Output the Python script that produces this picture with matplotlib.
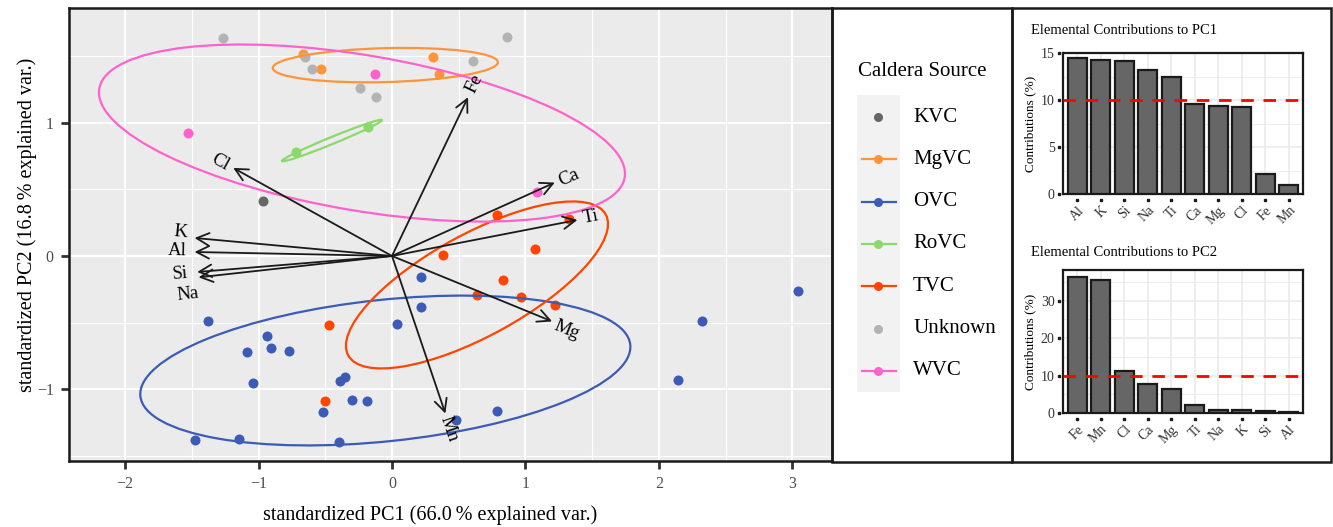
import numpy as np
import matplotlib
matplotlib.use('Agg')
import matplotlib.pyplot as plt
from matplotlib.patches import Ellipse, Rectangle
from matplotlib.transforms import blended_transform_factory

plt.rcParams['font.family'] = ['Liberation Serif', 'DejaVu Serif']

# PCA scores by caldera source
groups = ['KVC', 'MgVC', 'OVC', 'RoVC', 'TVC', 'Unknown', 'WVC']
colors = ['#666666', '#ff9438', '#3b5bb6', '#8cd96b', '#ff4500', '#b3b3b3', '#ff62cd']

kvc_x = [-0.97]
kvc_y = [0.41]
mgvc_x = [-0.67, -0.53, 0.31, 0.35]
mgvc_y = [1.51, 1.40, 1.49, 1.36]
ovc_x = [-1.38, -0.94, -1.09, -0.91, -0.77, -1.04, -0.39, -0.35, -0.30, -0.19, -0.52,
         -1.48, -1.15, -0.40, 0.04, 0.22, 0.22, 0.48, 0.79, 2.14, 2.32, 3.04]
ovc_y = [-0.49, -0.60, -0.72, -0.69, -0.71, -0.95, -0.94, -0.91, -1.08, -1.09, -1.17,
         -1.38, -1.37, -1.39, -0.51, -0.16, -0.38, -1.23, -1.16, -0.93, -0.49, -0.26]
rovc_x = [-0.72, -0.18]
rovc_y = [0.78, 0.97]
tvc_x = [0.38, 0.79, 1.33, 1.07, 0.83, 0.64, 0.97, 1.22, -0.47, -0.50]
tvc_y = [0.01, 0.31, 0.28, 0.05, -0.18, -0.29, -0.31, -0.37, -0.52, -1.09]
unk_x = [-1.27, -0.65, -0.60, -0.24, -0.12, 0.61, 0.86]
unk_y = [1.63, 1.49, 1.40, 1.26, 1.19, 1.46, 1.64]
wvc_x = [-1.53, -0.13, 1.09]
wvc_y = [0.92, 1.36, 0.48]

scores = {
    'KVC': (kvc_x, kvc_y), 'MgVC': (mgvc_x, mgvc_y), 'OVC': (ovc_x, ovc_y),
    'RoVC': (rovc_x, rovc_y), 'TVC': (tvc_x, tvc_y), 'Unknown': (unk_x, unk_y),
    'WVC': (wvc_x, wvc_y),
}

# 68 % normal ellipses: centre x, centre y, semi-major, semi-minor, angle
ell_groups = ['MgVC', 'OVC', 'RoVC', 'TVC', 'WVC']
ell_cx = [-0.05, -0.05, -0.45, 0.637, -0.225]
ell_cy = [1.43, -0.858, 0.865, -0.217, 0.921]
ell_a = [0.844, 1.846, 0.405, 1.10, 1.997]
ell_b = [0.127, 0.530, 0.026, 0.382, 0.582]
ell_ang = [1.5, 6.0, 22.3, 28.7, -9.6]

# variable loadings
elements = ['Fe', 'Cl', 'K', 'Al', 'Si', 'Na', 'Ca', 'Ti', 'Mg', 'Mn']
load_x = [0.57, -1.19, -1.48, -1.48, -1.46, -1.45, 1.22, 1.39, 1.20, 0.40]
load_y = [1.19, 0.66, 0.135, 0.03, -0.12, -0.16, 0.55, 0.27, -0.49, -1.18]
lab_x = [0.615, -1.289, -1.582, -1.612, -1.589, -1.529, 1.327, 1.492, 1.312, 0.427]
lab_y = [1.288, 0.704, 0.180, 0.037, -0.135, -0.285, 0.584, 0.292, -0.554, -1.296]

# contributions (%)
pc1_elems = ['Al', 'K', 'Si', 'Na', 'Ti', 'Ca', 'Mg', 'Cl', 'Fe', 'Mn']
pc1_vals = [14.5, 14.3, 14.2, 13.2, 12.5, 9.6, 9.4, 9.3, 2.1, 1.0]
pc2_elems = ['Fe', 'Mn', 'Cl', 'Ca', 'Mg', 'Ti', 'Na', 'K', 'Si', 'Al']
pc2_vals = [36.4, 35.4, 11.3, 7.7, 6.4, 2.2, 0.8, 0.7, 0.5, 0.2]

W, H = 1333, 527


def fbox(l, t, r, b):
    return [l / W, 1 - b / H, (r - l) / W, (b - t) / H]


fig = plt.figure(figsize=(W / 100, H / 100), dpi=100)

# ---- biplot
ax = fig.add_axes(fbox(69, 8, 832, 461))
ax.set_facecolor('#ebebeb')
for g, c in zip(groups, colors):
    gx, gy = scores[g]
    ax.scatter(gx, gy, s=52, color=c, lw=0, zorder=3)

for g, cx, cy, a, b, ang in zip(ell_groups, ell_cx, ell_cy, ell_a, ell_b, ell_ang):
    c = colors[groups.index(g)]
    ax.add_patch(Ellipse((cx, cy), 2 * a, 2 * b, angle=ang, fill=False,
                         ec=c, lw=1.6, zorder=4))

for name, tx, ty, lx, ly in zip(elements, load_x, load_y, lab_x, lab_y):
    ax.annotate('', xy=(tx, ty), xytext=(0, 0),
                arrowprops=dict(arrowstyle='->,head_length=0.6,head_width=0.3',
                                mutation_scale=15, lw=1.3, color='#1a1a1a',
                                shrinkA=0, shrinkB=0), zorder=5)
    ax.text(lx, ly, name, rotation=np.degrees(np.arctan(ty / tx)), ha='center',
            va='center', rotation_mode='anchor', fontsize=13.5, zorder=6)

ax.set_xticks([-2, -1, 0, 1, 2, 3])
ax.set_xticks(np.arange(-2.0, 3.5, 0.5), minor=True)
ax.set_yticks([-1, 0, 1])
ax.set_yticks(np.arange(-1.5, 2.0, 0.5), minor=True)
ax.set_xlim(-2.421, 3.298)
ax.set_ylim(-1.536, 1.858)
ax.grid(which='major', color='white', lw=1.4)
ax.grid(which='minor', color='white', lw=0.8)
ax.set_axisbelow(True)
ax.tick_params(which='major', length=6, width=2, color='#333333',
               labelcolor='#4d4d4d', labelsize=11.5, pad=5)
ax.tick_params(which='minor', length=0)
for sp in ax.spines.values():
    sp.set_linewidth(1.8)
    sp.set_color('#1a1a1a')

fig.text(430 / W, 1 - 515 / H, 'standardized PC1 (66.0\u2009% explained var.)',
         ha='center', va='center', fontsize=14.5)
fig.text(27 / W, 1 - 225 / H, 'standardized PC2 (16.8\u2009% explained var.)',
         ha='center', va='center', rotation=90, fontsize=14.5)


# ---- contribution bar charts
def contrib(box, elems, vals, top, major, minor, title, title_y):
    axb = fig.add_axes(fbox(*box))
    x = np.arange(len(elems))
    axb.bar(x, vals, width=0.8, color='#666666', edgecolor='#1a1a1a', lw=1.6, zorder=3)
    axb.axhline(10, color='#ff0000', lw=2, ls=(0, (4.5, 3.5)), zorder=4)
    axb.set_xticks(x)
    axb.set_xticklabels(elems, rotation=45, ha='right', rotation_mode='anchor')
    axb.set_yticks(major)
    axb.set_yticks(minor, minor=True)
    axb.set_xlim(-0.6, 9.6)
    axb.set_ylim(0, top)
    axb.grid(which='major', color='#ebebeb', lw=1.2)
    axb.grid(which='minor', axis='y', color='#ebebeb', lw=0.6)
    axb.set_axisbelow(True)
    axb.tick_params(axis='x', length=0, pad=7, labelsize=10, labelcolor='#333333')
    axb.tick_params(axis='y', length=0, pad=6, labelsize=10, labelcolor='#333333')
    axb.tick_params(which='minor', length=0)
    for sp in axb.spines.values():
        sp.set_linewidth(1.6)
        sp.set_color('#1a1a1a')
    bx = blended_transform_factory(axb.transData, axb.transAxes)
    axb.plot(x, [-0.045] * len(x), 's', ms=2, color='#1a1a1a', transform=bx, clip_on=False)
    by = blended_transform_factory(axb.transAxes, axb.transData)
    axb.plot([-0.018] * len(major), major, 's', ms=2, color='#1a1a1a', transform=by,
             clip_on=False)
    axb.set_ylabel('Contributions (%)', fontsize=9.5, labelpad=3)
    fig.text(1031 / W, 1 - title_y / H, title, ha='left', va='center', fontsize=10.5)


contrib((1063, 53, 1303, 194), pc1_elems, pc1_vals, 15, [0, 5, 10, 15],
        [2.5, 7.5, 12.5], 'Elemental Contributions to PC1', 30)
contrib((1063, 270, 1303, 413), pc2_elems, pc2_vals, 38.2, [0, 10, 20, 30],
        [5, 15, 25, 35], 'Elemental Contributions to PC2', 253)

# ---- legend and panel frames, drawn in pixel space
ov = fig.add_axes([0, 0, 1, 1])
ov.set_xlim(0, W)
ov.set_ylim(H, 0)
ov.axis('off')
ov.patch.set_visible(False)
ov.add_patch(Rectangle((832, 8), 180, 454, fill=False, ec='#1a1a1a', lw=1.8))
ov.add_patch(Rectangle((1012, 8), 319, 454, fill=False, ec='#1a1a1a', lw=1.8))
ov.add_patch(Rectangle((857, 95), 43, 297, fc='#f2f2f2', ec='none'))
ov.text(858, 72, 'Caldera Source', ha='left', va='center', fontsize=15)
for i, (g, c) in enumerate(zip(groups, colors)):
    ky = 117 + i * 42.3
    if g in ell_groups:
        ov.plot([862, 896], [ky, ky], color=c, lw=1.6)
    ov.plot([878], [ky], 'o', color=c, ms=6.5, mew=0)
    ov.text(913, ky, g, ha='left', va='center', fontsize=15)

fig.savefig('out.png', dpi=100)
